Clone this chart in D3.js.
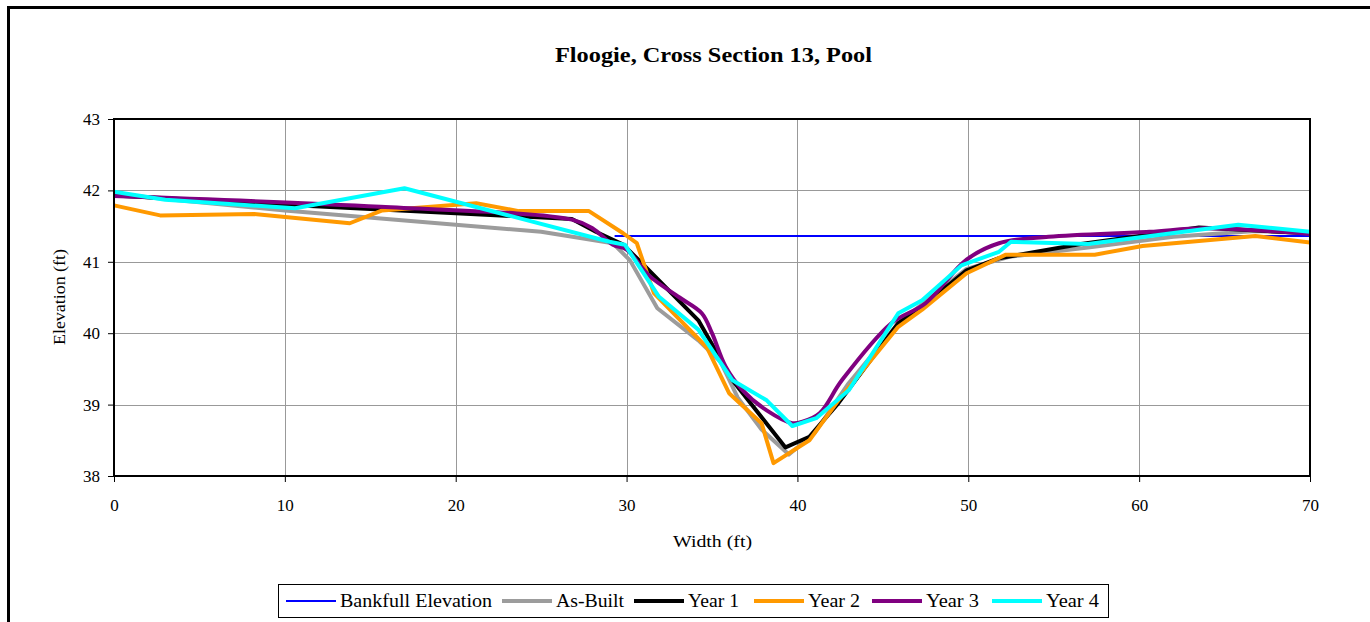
<!DOCTYPE html>
<html>
<head>
<meta charset="utf-8">
<script src="https://cdn.jsdelivr.net/npm/d3@7"></script>
<style>
  body { margin: 0; background: #fff; }
  text { font-family: "Liberation Serif", "Times New Roman", serif; fill: #000; }
</style>
</head>
<body>
<div id="chart"></div>
<script>
// cross section survey data, [width, elevation]
const bankfull = [[29.3, 41.36], [70, 41.36]];
const asBuilt = [[0, 41.95], [10, 41.72], [20, 41.52], [25, 41.42], [29.2, 41.26], [30.2, 41.02], [31.8, 40.35],
  [34.2, 39.9], [35.5, 39.6], [36.5, 39.1], [37.9, 38.65], [39.5, 38.3], [41, 38.6], [43, 39.3], [45.9, 40.14],
  [49.9, 40.9], [52.4, 41.07], [57, 41.2], [62, 41.35], [66.8, 41.43], [70, 41.4]];
const year1 = [[0, 41.93], [10, 41.8], [20, 41.68], [26.8, 41.6], [28.2, 41.42], [29.8, 41.24], [30.9, 40.98],
  [34.2, 40.18], [36.2, 39.34], [39.3, 38.4], [40.7, 38.55], [42.4, 39.02], [45.9, 40.14], [47.3, 40.37],
  [49.9, 40.88], [51.8, 41.05], [56.6, 41.25], [60, 41.36], [63.5, 41.48], [70, 41.4]];
const year2 = [[0, 41.79], [2.7, 41.65], [8.2, 41.67], [13.8, 41.54], [15.7, 41.72], [21.2, 41.82], [23.7, 41.71],
  [27.8, 41.71], [29.8, 41.4], [30.6, 41.26], [31.6, 40.56], [34.7, 39.8], [36, 39.16], [37.9, 38.74], [38.6, 38.18],
  [40.7, 38.5], [42.4, 39.06], [45.9, 40.09], [47.3, 40.33], [49.9, 40.84], [52.2, 41.1], [57.4, 41.1],
  [60.2, 41.22], [66.8, 41.36], [70, 41.27]];
const year3 = [[0, 41.92], [15.6, 41.77], [26.8, 41.59], [28, 41.47], [29.2, 41.24], [30, 41.17], [31.3, 40.81],
  [33.1, 40.5], [34.4, 40.28], [35, 40.0], [35.8, 39.53], [36.8, 39.2], [38.2, 38.92], [39.7, 38.74], [40.3, 38.76],
  [41.3, 38.88], [42.6, 39.34], [45.5, 40.14], [47.5, 40.42], [49.9, 41.03], [51.8, 41.26], [54.7, 41.35],
  [60.6, 41.42], [63.8, 41.47], [70, 41.39]];
const year4 = [[0, 41.98], [3, 41.87], [10.6, 41.75], [17, 42.03], [29, 41.28], [29.9, 41.24], [31.9, 40.51],
  [34.2, 40.05], [36.2, 39.34], [38.2, 39.06], [39.7, 38.7], [41.1, 38.81], [43, 39.2], [45.9, 40.28],
  [47.3, 40.46], [49.6, 40.95], [51.8, 41.14], [52.5, 41.28], [57, 41.25], [65.8, 41.52], [70, 41.42]];

const seriesNames = ["Bankfull Elevation", "As-Built", "Year 1", "Year 2", "Year 3", "Year 4"];
const seriesData = [bankfull, asBuilt, year1, year2, year3, year4];
const seriesColors = ["#0000ff", "#9c9c9c", "#000000", "#ff9900", "#800080", "#00ffff"];
const xTicks = [0, 10, 20, 30, 40, 50, 60, 70];
const yTicks = [38, 39, 40, 41, 42, 43];

const W = 1370, H = 622;
const margin = { top: 119, left: 114, right: 60, bottom: 146 };
const width = W - margin.left - margin.right;
const height = H - margin.top - margin.bottom;
const serif = '"Liberation Serif", "Times New Roman", serif';

const svg = d3.select("#chart").append("svg")
  .attr("width", W)
  .attr("height", H);

// outer chart frame (runs off the right and bottom edges)
svg.append("rect")
  .attr("x", 8.5).attr("y", 7.5)
  .attr("width", 1400).attr("height", 700)
  .attr("fill", "none").attr("stroke", "#000").attr("stroke-width", 3);

// the source text is stretched wide, so lengths are fixed to match it
svg.append("text")
  .attr("x", 555).attr("y", 62)
  .attr("textLength", 317).attr("lengthAdjust", "spacingAndGlyphs")
  .style("font-size", "20px").style("font-weight", "bold")
  .text("Floogie, Cross Section 13, Pool");

const g = svg.append("g")
  .attr("transform", "translate(" + margin.left + "," + margin.top + ")");

const x = d3.scaleLinear().domain([0, 70]).range([0, width]);
const y = d3.scaleLinear().domain([38, 43]).range([height, 0]);

// gridlines
g.append("g")
  .selectAll("line")
  .data(yTicks.slice(1, -1))
  .enter().append("line")
  .attr("x1", 0).attr("x2", width)
  .attr("y1", d => Math.round(y(d)) + 0.5).attr("y2", d => Math.round(y(d)) + 0.5)
  .attr("stroke", "#999").attr("stroke-width", 1);

g.append("g")
  .selectAll("line")
  .data(xTicks.slice(1, -1))
  .enter().append("line")
  .attr("y1", 0).attr("y2", height)
  .attr("x1", d => Math.round(x(d)) + 0.5).attr("x2", d => Math.round(x(d)) + 0.5)
  .attr("stroke", "#999").attr("stroke-width", 1);

// axes
const xAxis = d3.axisBottom(x).tickValues(xTicks).tickFormat(d3.format("d")).tickSize(6).tickPadding(17);
const yAxis = d3.axisLeft(y).tickValues(yTicks).tickFormat(d3.format("d")).tickSize(6).tickPadding(8);

const gx = g.append("g")
  .attr("transform", "translate(0," + height + ")")
  .call(xAxis);
const gy = g.append("g").call(yAxis);

[gx, gy].forEach(a => {
  a.attr("font-family", serif).attr("font-size", 17);
  a.select(".domain").remove();
  a.selectAll("line").attr("stroke", "#000");
});

// lines
const line = d3.line().x(d => x(d[0])).y(d => y(d[1]));
const smooth = d3.line().x(d => x(d[0])).y(d => y(d[1])).curve(d3.curveCatmullRom.alpha(0.5));

seriesData.forEach((s, i) => {
  g.append("path")
    .datum(s)
    .attr("d", seriesNames[i] === "Year 3" ? smooth : line)
    .attr("fill", "none")
    .attr("stroke", seriesColors[i])
    .attr("stroke-width", i === 0 ? 2 : 4)
    .attr("stroke-linejoin", "round");
});

// plot border
g.append("rect")
  .attr("x", 0).attr("y", 0)
  .attr("width", width).attr("height", height)
  .attr("fill", "none").attr("stroke", "#000").attr("stroke-width", 2);

// axis titles
svg.append("text")
  .attr("x", 673).attr("y", 547)
  .attr("textLength", 79).attr("lengthAdjust", "spacingAndGlyphs")
  .style("font-size", "17px")
  .text("Width (ft)");

svg.append("text")
  .attr("transform", "translate(65,345) rotate(-90)")
  .attr("textLength", 96).attr("lengthAdjust", "spacingAndGlyphs")
  .style("font-size", "17px")
  .text("Elevation (ft)");

// legend
const legend = svg.append("g").attr("transform", "translate(278,584)");
legend.append("rect")
  .attr("x", 0.5).attr("y", 0.5)
  .attr("width", 830).attr("height", 33)
  .attr("fill", "#fff").attr("stroke", "#000").attr("stroke-width", 1);

const legendX = [8, 224, 356, 476, 594, 714];
const legendLen = [152, 68, 51, 52, 53, 53];
seriesNames.forEach((n, i) => {
  const lg = legend.append("g").attr("transform", "translate(" + legendX[i] + ",17)");
  lg.append("line")
    .attr("x1", 0).attr("x2", 50)
    .attr("stroke", seriesColors[i])
    .attr("stroke-width", i === 0 ? 2 : 4);
  lg.append("text")
    .attr("x", 54).attr("y", 6)
    .attr("textLength", legendLen[i]).attr("lengthAdjust", "spacingAndGlyphs")
    .style("font-size", "18px")
    .text(n);
});
</script>
</body>
</html>
